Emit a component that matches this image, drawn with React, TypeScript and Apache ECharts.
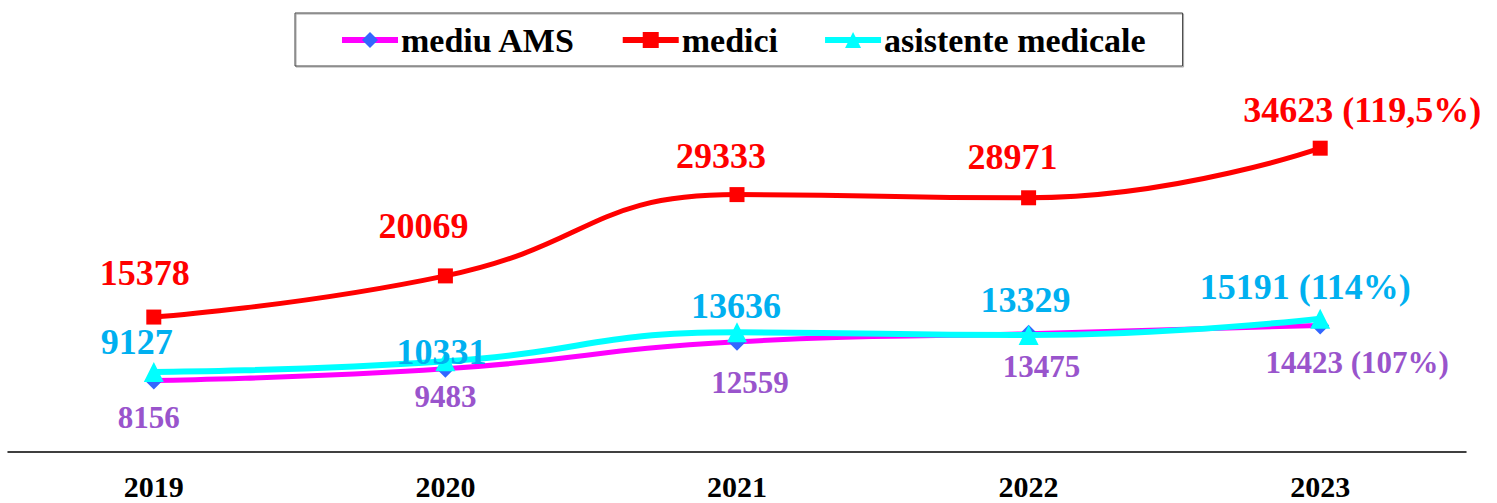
import React, { useEffect, useRef } from "react";
import * as echarts from "echarts";

const years = ["2019", "2020", "2021", "2022", "2023"];
const mediuAMS = [8156, 9483, 12559, 13475, 14423];
const medici = [15378, 20069, 29333, 28971, 34623];
const asistente = [9127, 10331, 13636, 13329, 15191];
const mediuAMSSuffix = ["", "", "", "", " (107%)"];
const mediciSuffix = ["", "", "", "", " (119,5%)"];
const asistenteSuffix = ["", "", "", "", " (114%)"];

const mediuAMSOffsets = [[-5, 37], [0, 28], [13, 41], [13, 33], [37, 37]];
const mediciOffsets = [[-9, -44], [-22, -50], [-16, -39], [-16, -41], [42, -38]];
const asistenteOffsets = [[-17, -30], [-4, -9], [-1, -26], [-3, -35], [-15, -32]];

const FONT = "Liberation Serif";

function buildData(values: number[], suffix: string[], offsets: number[][], color: string, size: number) {
  return values.map((v, i) => ({
    value: v,
    label: {
      show: true,
      position: "inside",
      offset: offsets[i],
      formatter: String(v) + suffix[i],
      color,
      fontSize: size,
      fontWeight: "bold",
      fontFamily: FONT,
    },
  }));
}

export default function App() {
  const ref = useRef<HTMLDivElement>(null);
  useEffect(() => {
    if (!ref.current) return;
    const chart = echarts.init(ref.current, undefined, { renderer: "svg" });
    chart.setOption({
      animation: false,
      backgroundColor: "#ffffff",
      legend: {
        left: 295,
        top: 13,
        padding: [10, 37, 9, 44],
        itemGap: 44,
        itemWidth: 56,
        itemHeight: 20,
        borderColor: "#404040",
        borderWidth: 1,
        shadowColor: "rgba(0,0,0,0.35)",
        shadowOffsetX: 1,
        shadowOffsetY: 1,
        shadowBlur: 1,
        lineStyle: { width: 6 },
        textStyle: {
          fontFamily: FONT,
          fontWeight: "bold",
          fontSize: 34,
          color: "#000000",
          padding: [0, 0, 0, -2],
        },
        data: ["mediu AMS", "medici", "asistente medicale"],
      },
      grid: { left: 8, right: 31, top: 101, bottom: 51, containLabel: false },
      xAxis: {
        type: "category",
        data: years,
        boundaryGap: true,
        axisLine: { show: true, lineStyle: { color: "#000000", width: 1.5 } },
        axisTick: { show: false },
        axisLabel: {
          color: "#000000",
          fontFamily: FONT,
          fontWeight: "bold",
          fontSize: 30,
          lineHeight: 26,
          margin: 21,
        },
      },
      yAxis: {
        type: "value",
        min: 0,
        max: 40000,
        show: false,
        splitLine: { show: false },
      },
      series: [
        {
          name: "mediu AMS",
          type: "line",
          smooth: true,
          symbol: "diamond",
          symbolSize: 18,
          itemStyle: { color: "#3366ff" },
          lineStyle: { color: "#ff00ff", width: 5 },
          data: buildData(mediuAMS, mediuAMSSuffix, mediuAMSOffsets, "#9954cc", 31),
          z: 2,
        },
        {
          name: "medici",
          type: "line",
          smooth: true,
          symbol: "rect",
          symbolSize: 15,
          itemStyle: { color: "#ff0000" },
          lineStyle: { color: "#ff0000", width: 5 },
          data: buildData(medici, mediciSuffix, mediciOffsets, "#ff0000", 36),
          z: 3,
        },
        {
          name: "asistente medicale",
          type: "line",
          smooth: true,
          symbol: "triangle",
          symbolSize: 20,
          itemStyle: { color: "#00ffff" },
          lineStyle: { color: "#00ffff", width: 6 },
          data: buildData(asistente, asistenteSuffix, asistenteOffsets, "#00b0f0", 36),
          z: 4,
        },
      ],
    });
    return () => chart.dispose();
  }, []);
  return (
    <div
      ref={ref}
      style={{ position: "absolute", left: 0, top: 0, width: 1497, height: 503 }}
    />
  );
}
